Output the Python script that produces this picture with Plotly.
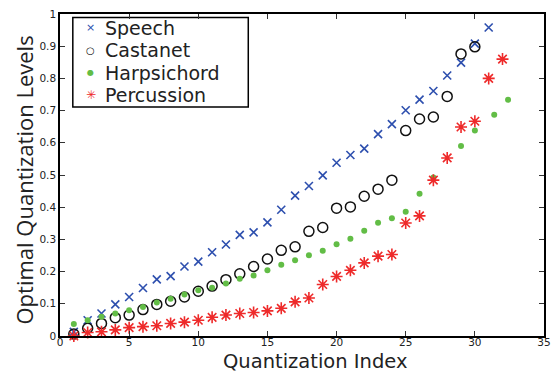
import plotly.graph_objects as go

speech_x = list(range(1, 32))
speech_y = [0.013, 0.049, 0.070, 0.098, 0.121, 0.149, 0.176, 0.186, 0.216, 0.231,
            0.260, 0.284, 0.314, 0.322, 0.353, 0.392, 0.436, 0.466, 0.499, 0.538,
            0.562, 0.582, 0.627, 0.658, 0.701, 0.734, 0.761, 0.809, 0.849, 0.908, 0.958]

castanet_x = list(range(1, 31))
castanet_y = [0.006, 0.024, 0.039, 0.057, 0.065, 0.082, 0.098, 0.108, 0.121, 0.139,
              0.155, 0.175, 0.193, 0.216, 0.239, 0.266, 0.277, 0.325, 0.337, 0.397,
              0.401, 0.434, 0.456, 0.484, 0.638, 0.674, 0.680, 0.744, 0.876, 0.898]

harpsichord_x = list(range(1, 28)) + [29, 30, 31.4, 32.4]
harpsichord_y = [0.037, 0.049, 0.060, 0.070, 0.080, 0.090, 0.104, 0.116, 0.129, 0.142,
                 0.150, 0.163, 0.178, 0.188, 0.204, 0.221, 0.235, 0.251, 0.265, 0.285,
                 0.302, 0.327, 0.352, 0.366, 0.386, 0.442, 0.492, 0.590, 0.638, 0.687, 0.734]

percussion_x = list(range(1, 33))
percussion_y = [0.000, 0.011, 0.013, 0.019, 0.026, 0.029, 0.032, 0.039, 0.043, 0.049,
                0.058, 0.065, 0.070, 0.073, 0.078, 0.086, 0.106, 0.118, 0.160, 0.185,
                0.204, 0.227, 0.248, 0.253, 0.351, 0.373, 0.484, 0.553, 0.649, 0.667,
                0.800, 0.860]

series_names = ["Speech", "Castanet", "Harpsichord", "Percussion"]
series_colors = ["#2d4fae", "#111111", "#62bd46", "#ee2a2a"]
legend_glyphs = ["×", "○", "●", "✳"]

x_ticks = [0, 5, 10, 15, 20, 25, 30, 35]
y_ticks = [0, 0.1, 0.2, 0.3, 0.4, 0.5, 0.6, 0.7, 0.8, 0.9, 1]
y_tick_labels = ["0", "0.1", "0.2", "0.3", "0.4", "0.5", "0.6", "0.7", "0.8", "0.9", "1"]

FONT = "Open Sans"
FONT2 = "DejaVu Sans"
TXT = "#222222"

fig = go.Figure()
fig.add_trace(go.Scatter(
    x=speech_x, y=speech_y, mode="markers", name=series_names[0], cliponaxis=False,
    marker=dict(symbol="x-thin-open", size=8, color=series_colors[0],
                line=dict(color=series_colors[0], width=1.6))))
fig.add_trace(go.Scatter(
    x=castanet_x, y=castanet_y, mode="markers", name=series_names[1], cliponaxis=False,
    marker=dict(symbol="circle-open", size=10, color=series_colors[1],
                line=dict(color=series_colors[1], width=1.5))))
fig.add_trace(go.Scatter(
    x=harpsichord_x, y=harpsichord_y, mode="markers", name=series_names[2], cliponaxis=False,
    marker=dict(symbol="circle", size=6, color=series_colors[2], line=dict(width=0))))
fig.add_trace(go.Scatter(
    x=percussion_x, y=percussion_y, mode="markers", name=series_names[3], cliponaxis=False,
    marker=dict(symbol="asterisk-open", size=10, color=series_colors[3],
                line=dict(color=series_colors[3], width=1.6))))

axis_common = dict(
    showline=True, linecolor="black", linewidth=1.5, mirror="ticks",
    ticks="inside", ticklen=5, tickwidth=1, tickcolor="#333333",
    showgrid=False, zeroline=False,
    tickfont=dict(family=FONT2, size=10.5, color=TXT),
)

# plot area in pixels: x 60..551, y 12..336
PL, PR, PT, PB = 60, 551, 12, 336
def px_x(p):
    return (p - PL) / (PR - PL)
def px_y(p):
    return (PB - p) / (PB - PT)

annotations = [
    dict(text="Quantization Index", xref="paper", yref="paper",
         x=px_x(319), y=px_y(361.5), xanchor="center", yanchor="middle",
         showarrow=False, borderpad=0, font=dict(family=FONT2, size=19.5, color=TXT)),
    dict(text="Optimal Quantization Levels", xref="paper", yref="paper",
         x=px_x(23), y=px_y(179), xanchor="center", yanchor="middle",
         textangle=-90, showarrow=False,
         font=dict(family=FONT, size=22, color=TXT)),
]

# manual legend
row_y = [26, 48.5, 71, 93.5]
glyph_sizes = [11, 10, 8, 12]
for name, col, g, gs, ry in zip(series_names, series_colors, legend_glyphs, glyph_sizes, row_y):
    annotations.append(dict(text=g, xref="paper", yref="paper",
                            x=px_x(91), y=px_y(ry), xanchor="center", yanchor="middle",
                            showarrow=False, borderpad=0,
                            font=dict(family=FONT2, size=gs, color=col)))
    annotations.append(dict(text=name, xref="paper", yref="paper",
                            x=px_x(105), y=px_y(ry), xanchor="left", yanchor="middle",
                            showarrow=False, borderpad=0,
                            font=dict(family=FONT2, size=19, color=TXT)))

fig.update_layout(
    width=559, height=373,
    margin=dict(l=PL, r=559 - PR, t=PT, b=373 - PB),
    paper_bgcolor="white", plot_bgcolor="white",
    font=dict(family=FONT, color=TXT),
    showlegend=False,
    xaxis=dict(range=[0, 35], tickvals=x_ticks, ticktext=[str(v) for v in x_ticks],
               ticklabelstandoff=-4, **axis_common),
    yaxis=dict(range=[0, 1], tickvals=y_ticks, ticktext=y_tick_labels, **axis_common),
    shapes=[dict(type="rect", xref="paper", yref="paper",
                 x0=px_x(73), x1=px_x(251), y0=px_y(105.5), y1=px_y(15.5),
                 line=dict(color="black", width=1.5), fillcolor="white", layer="below")],
    annotations=annotations,
)

fig.write_html("out.html")
